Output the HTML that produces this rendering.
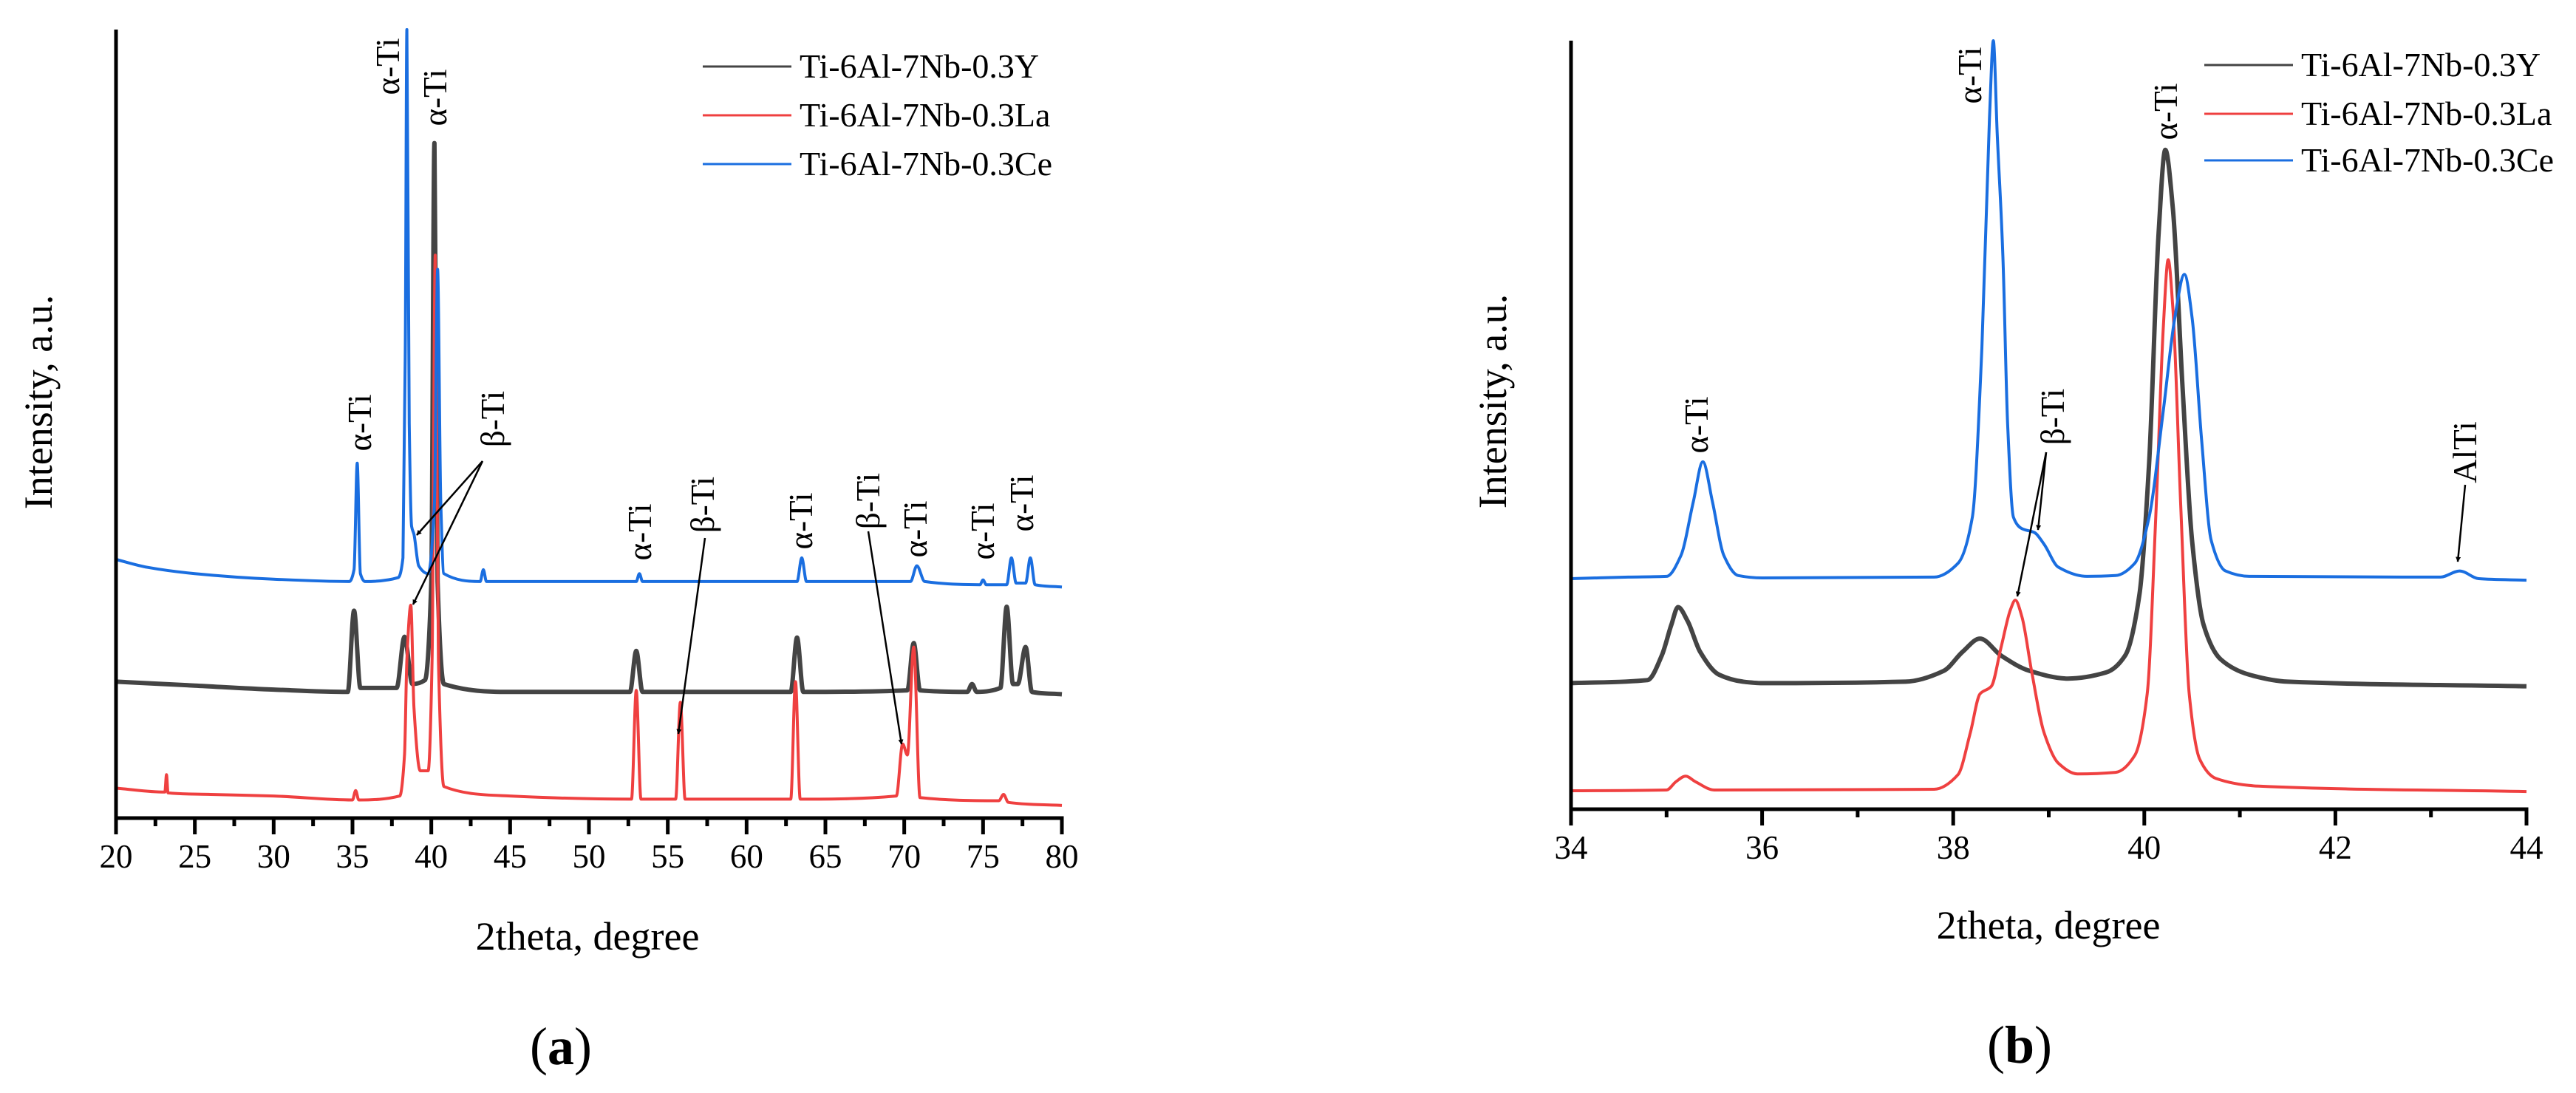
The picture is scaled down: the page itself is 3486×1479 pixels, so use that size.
<!DOCTYPE html>
<html><head><meta charset="utf-8">
<style>
html,body{margin:0;padding:0;background:#fff;}
svg{display:block;}
svg text{font-family:"Liberation Serif","DejaVu Serif",serif;}
</style></head>
<body>
<svg id="fig" width="3486" height="1479" viewBox="0 0 3486 1479" xmlns="http://www.w3.org/2000/svg" font-family="Liberation Serif, DejaVu Serif, serif">
<defs>
<marker id="arr" viewBox="0 0 10 10" refX="9" refY="5" markerWidth="7" markerHeight="7" orient="auto-start-reverse" markerUnits="userSpaceOnUse">
<path d="M0,0 L10,5 L0,10 z" fill="#000"/>
</marker>
</defs>
</svg>
<script>
// ---- Panel (a) data ----
const aTicks = [20,25,30,35,40,45,50,55,60,65,70,75,80];
const aBlue = [[20,32.8],[22,31.8],[25,31],[30,30.3],[34.8,30],[35.1,31.5],[35.3,45],[35.5,31],[35.8,30],[37.9,30.5],[38.2,33],[38.35,60],[38.45,100],[38.6,50],[38.75,37],[38.9,36],[39.2,32],[39.8,31],[40.2,40],[40.4,69.6],[40.6,40],[40.8,31],[43.1,30],[43.3,31.5],[43.5,30],[53,30],[53.2,31],[53.4,30],[63.2,30],[63.5,33],[63.8,30],[70.4,30],[70.8,32],[71.3,30],[74.8,29.6],[75,30.2],[75.2,29.6],[76.5,29.6],[76.8,33],[77.1,29.8],[77.7,29.8],[78,33],[78.3,29.6],[80,29.3]];
const aGray = [[20,17.3],[25,16.8],[30,16.3],[34.7,16],[35.1,26.3],[35.5,16.5],[37.8,16.5],[38.3,23],[38.8,17],[39.6,17.5],[40.0,30],[40.2,85.6],[40.4,30],[40.8,17],[45,16],[52.6,16],[53,21.2],[53.4,16],[62.8,16],[63.2,22.9],[63.6,16],[70.2,16.2],[70.6,22.2],[71,16.2],[74,16],[74.3,17],[74.6,16],[76.1,16.5],[76.5,26.8],[76.9,17],[77.2,17],[77.7,21.7],[78.1,16],[80,15.7]];
const aRed = [[20,3.8],[23.1,3.3],[23.2,5.5],[23.3,3.2],[26,3],[30,2.8],[35,2.3],[35.2,3.5],[35.4,2.3],[38.0,2.8],[38.3,8],[38.45,20],[38.7,27],[38.9,14],[39.3,6],[39.8,6],[40.05,20],[40.25,71.4],[40.45,20],[40.8,4],[45,2.8],[52.7,2.4],[53.0,16.2],[53.3,2.4],[55.5,2.4],[55.8,14.7],[56.1,2.4],[62.8,2.4],[63.1,17.3],[63.4,2.4],[69.5,2.8],[69.9,9.4],[70.2,8],[70.6,21.7],[71,2.6],[76,2.2],[76.3,3],[76.6,2],[80,1.6]];
// ---- Panel (b) data ----
const bTicks = [34,36,38,40,42,44];
const bBlue = [[34,30],[34.6,30.2],[35.0,30.3],[35.15,33],[35.28,40],[35.38,45.2],[35.48,40],[35.6,33],[35.75,30.4],[36,30.1],[37.8,30.2],[38.05,32],[38.2,38],[38.3,60],[38.38,90],[38.42,100],[38.46,88],[38.52,72],[38.57,50],[38.63,38],[38.72,36.5],[38.85,36],[38.95,34.5],[39.1,31.5],[39.4,30.3],[39.7,30.4],[39.9,32],[40.05,38],[40.2,52],[40.32,64],[40.42,69.6],[40.5,64],[40.6,48],[40.7,35],[40.85,31],[41.1,30.3],[43.1,30.2],[43.3,31],[43.5,30],[44,29.8]];
const bGray = [[34,16.4],[34.8,16.8],[34.95,20],[35.05,24],[35.12,26.3],[35.22,24.5],[35.35,20.5],[35.55,17.5],[35.8,16.6],[36,16.4],[37.5,16.6],[37.9,18],[38.1,20.5],[38.28,22.2],[38.5,20],[38.8,18],[39.2,17],[39.6,17.8],[39.8,20],[39.95,28],[40.05,45],[40.15,75],[40.22,85.8],[40.3,78],[40.4,55],[40.5,35],[40.62,24],[40.8,19.5],[41.1,17.5],[41.5,16.6],[44,16]];
const bRed = [[34,2.4],[35,2.5],[35.1,3.6],[35.2,4.3],[35.3,3.6],[35.5,2.5],[37.8,2.6],[38.05,4.5],[38.18,10],[38.28,15],[38.4,16],[38.5,21],[38.6,26],[38.65,27.2],[38.72,25],[38.82,18],[38.95,10],[39.1,6],[39.3,4.6],[39.7,4.8],[39.9,7],[40.03,15],[40.12,38],[40.2,63],[40.25,71.5],[40.3,65],[40.38,40],[40.47,15],[40.58,6.5],[40.75,4],[41.2,3],[44,2.3]];
const legendNames = ["Ti-6Al-7Nb-0.3Y","Ti-6Al-7Nb-0.3La","Ti-6Al-7Nb-0.3Ce"];

const NS="http://www.w3.org/2000/svg";
const svg=document.getElementById('fig');
const FF='"Liberation Serif","DejaVu Serif",serif';
function mk(tag,attrs,parent){const e=document.createElementNS(NS,tag);for(const k in attrs)e.setAttribute(k,attrs[k]);if(tag==='text')e.style.fontFamily=FF;(parent||svg).appendChild(e);return e;}
const COL={gray:"#444444",red:"#ef4040",blue:"#1a6ee0"};

// monotone cubic path through screen points
function monoPath(P){
  const n=P.length;if(n<2)return '';
  const dx=[],m=[],t=[];
  for(let i=0;i<n-1;i++){dx[i]=P[i+1][0]-P[i][0];m[i]=(P[i+1][1]-P[i][1])/dx[i];}
  t[0]=m[0];t[n-1]=m[n-2];
  for(let i=1;i<n-1;i++){t[i]=(m[i-1]*m[i]<=0)?0:(3*(dx[i-1]+dx[i]))/((2*dx[i]+dx[i-1])/m[i-1]+(dx[i]+2*dx[i-1])/m[i]);}
  let d='M'+P[0][0].toFixed(1)+','+P[0][1].toFixed(1);
  for(let i=0;i<n-1;i++){
    const h=dx[i]/3;
    d+=' C'+(P[i][0]+h).toFixed(1)+','+(P[i][1]+t[i]*h).toFixed(1)+' '+(P[i+1][0]-h).toFixed(1)+','+(P[i+1][1]-t[i+1]*h).toFixed(1)+' '+P[i+1][0].toFixed(1)+','+P[i+1][1].toFixed(1);
  }
  return d;
}

function panel(o){
  const g=mk('g',{});
  
  
  const sx=v=>o.x0+(v-o.xmin)/(o.xmax-o.xmin)*(o.x1-o.x0);
  const sy=v=>o.y0-(v/100)*(o.y0-o.y1);
  const series=[[o.gray,COL.gray,'series-ti-6al-7nb-0.3y',6],[o.red,COL.red,'series-ti-6al-7nb-0.3la',4],[o.blue,COL.blue,'series-ti-6al-7nb-0.3ce',4]];
  for(const s of series){
    const pts=s[0].map(d=>[sx(d[0]),sy(Math.min(d[1],100))]);
    const p=mk('path',{d:monoPath(pts),fill:'none',stroke:s[1],'stroke-width':s[3],'stroke-linejoin':'round'},g);
    
    
  }
  const ya=mk('line',{x1:o.x0,y1:o.y1,x2:o.x0,y2:o.y0+2.5,stroke:'#000','stroke-width':5},g);
  
  
  const xa=mk('line',{x1:o.x0-2.5,y1:o.y0,x2:o.x1+2.5,y2:o.y0,stroke:'#000','stroke-width':5},g);
  
  
  o.ticks.forEach((t,i)=>{
    const X=sx(t);
    const tk=mk('line',{x1:X,y1:o.y0,x2:X,y2:o.y0+22,stroke:'#000','stroke-width':5},g);
    
    
    const lb=mk('text',{x:X,y:o.y0+67,'font-size':45,'text-anchor':'middle'},g);
    lb.textContent=t;
    
    
    if(i<o.ticks.length-1){
      const mx=sx((t+o.ticks[i+1])/2);
      const mt=mk('line',{x1:mx,y1:o.y0,x2:mx,y2:o.y0+11,stroke:'#000','stroke-width':5},g);
      
      
    }
  });
  const xt=mk('text',{x:o.xtX,y:o.xtY,'font-size':54,'text-anchor':'middle'},g);
  xt.textContent='2theta, degree';
  
  
  const yt=mk('text',{x:0,y:0,'font-size':54,'text-anchor':'middle',transform:`translate(${o.ytX},${o.ytY}) rotate(-90)`},g);
  yt.textContent='Intensity, a.u.';
  
  
  const pl=mk('text',{x:o.plX,y:o.plY,'font-size':72,'text-anchor':'middle'},g);
  pl.innerHTML='(<tspan font-weight="bold">'+o.letter+'</tspan>)';
  
  
  const cols=[COL.gray,COL.red,COL.blue];
  legendNames.forEach((n,i)=>{
    const y=o.lgY[i];
    const ll=mk('line',{x1:o.lgX,y1:y,x2:o.lgX+120,y2:y,stroke:cols[i],'stroke-width':3},g);
    
    
    const lt=mk('text',{x:o.lgX+131,y:y+15,'font-size':46},g);
    lt.textContent=n;
    
    
  });
  o.ann.forEach(a=>{
    const t=mk('text',{x:0,y:0,'font-size':45,'text-anchor':'middle',transform:`translate(${a[1]+15},${a[2]}) rotate(-90)`},g);
    t.textContent=a[0];
    
    
  });
  o.arrows.forEach(a=>{
    const l=mk('line',{x1:a[0],y1:a[1],x2:a[2],y2:a[3],stroke:'#000','stroke-width':2.5,'marker-end':'url(#arr)'},g);
    
    
  });
}

panel({name:'panel-a',letter:'a',xmin:20,xmax:80,x0:157,x1:1437,y0:1107,y1:40,ticks:aTicks,
  gray:aGray,red:aRed,blue:aBlue,xtX:795,xtY:1285,ytX:70,ytY:544,plX:759,plY:1440,
  lgX:951,lgY:[90,156,222],
  ann:[['α-Ti',525,90],['α-Ti',589,132],['α-Ti',487,572],['β-Ti',667,567],['α-Ti',866,720],['β-Ti',951,683],['α-Ti',1084,705],['β-Ti',1175,678],['α-Ti',1239,716],['α-Ti',1330,719],['α-Ti',1383,681]],
  arrows:[[653,624,564,724],[653,624,559,818],[954,728,918,993],[1175,719,1220,1007]]});

panel({name:'panel-b',letter:'b',xmin:34,xmax:44,x0:2126,x1:3419,y0:1095,y1:55,ticks:bTicks,
  gray:bGray,red:bRed,blue:bBlue,xtX:2772,xtY:1270,ytX:2038,ytY:543,plX:2733,plY:1438,
  lgX:2983,lgY:[88,154,217],
  ann:[['α-Ti',2666,102],['α-Ti',2931,151],['α-Ti',2296,575],['β-Ti',2778,564],['AlTi',3336,612]],
  arrows:[[2769,612,2758,717],[2769,612,2730,807],[3336,656,3326,760]]});
</script>
</body></html>
